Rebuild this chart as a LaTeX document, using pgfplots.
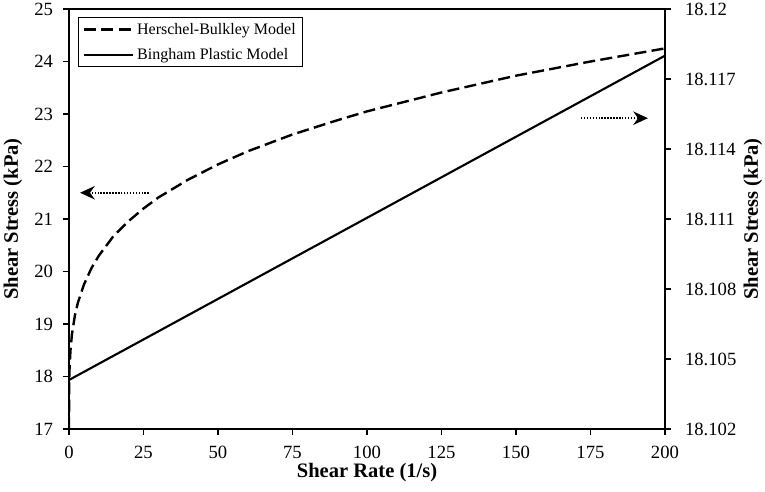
\documentclass[border=0pt]{standalone}
\usepackage{fontspec}
\setmainfont{Liberation Serif}
\usepackage{pgfplots}
\pgfplotsset{compat=1.18}
\usetikzlibrary{arrows.meta}

\pgfplotstableread{
x y
0 17.00
0.05 17.82
0.2 18.18
0.5 18.50
1 18.81
2 19.17
3 19.41
5 19.75
7.5 20.06
10 20.30
15 20.68
20 20.96
25 21.20
30 21.41
40 21.75
50 22.04
60 22.29
75 22.61
90 22.88
100 23.05
125 23.41
150 23.73
175 24.00
200 24.25
}\hbdata

\pgfplotstableread{
x y
0 18.1041
200 18.1180
}\bpdata

\begin{document}
\begin{tikzpicture}
\begin{axis}[
  scale only axis, width=447pt, height=315pt,
  xmin=0, xmax=200, ymin=17, ymax=25,
  ytick={17,18,19,20,21,22,23,24,25},
  yticklabels={17,18,19,20,21,22,23,24,25},
  xtick={0,25,50,75,100,125,150,175,200},
  xticklabels={0,25,50,75,100,125,150,175,200},
  tick align=outside,
  major tick length=4.5pt,
  xtick style={black, line width=1.2pt},
  ytick style={black, line width=1.2pt},
  xtick pos=bottom, ytick pos=left,
  ticklabel style={font=\fontsize{14}{16}\selectfont},
  yticklabel style={xshift=-4pt},
  xticklabel style={yshift=-5pt},
  axis line style={line width=1.1pt},
  xlabel={Shear Rate (1/s)},
  ylabel={Shear Stress (kPa)},
  xlabel style={font=\fontsize{15.4}{18}\selectfont\bfseries,
    at={(axis description cs:0.5,-0.116)}, anchor=base},
  ylabel style={font=\fontsize{15.4}{18}\selectfont\bfseries,
    at={(axis description cs:-0.094,0.5)}, anchor=center},
  legend style={at={(axis description cs:0.0151,0.981)}, anchor=north west,
    draw=black, line width=1.1pt, font=\fontsize{12}{14}\selectfont,
    inner xsep=3pt, inner ysep=2pt, row sep=5pt},
  legend cell align=left,
  legend image code/.code={\draw[#1] (0pt,0pt) -- (37pt,0pt);},
]
\addplot[black, line width=1.8pt, dash pattern=on 9pt off 4pt] table[x=x,y=y]{\hbdata};
\addlegendentry{Herschel-Bulkley Model}
\addlegendimage{black, line width=1.6pt, solid}
\addlegendentry{Bingham Plastic Model}
\draw[black, line width=1.8pt, dash pattern=on 1.1pt off 1.1pt,
  -{Stealth[length=11pt,width=10pt,inset=3.5pt]}] (axis cs:26.8,21.5) -- (axis cs:3.7,21.5);
\draw[black, line width=1.8pt, dash pattern=on 1.1pt off 1.1pt,
  -{Stealth[length=11pt,width=10pt,inset=3.5pt]}] (axis cs:171.8,22.92) -- (axis cs:194.3,22.92);
\end{axis}
\begin{axis}[
  scale only axis, width=447pt, height=315pt,
  xmin=0, xmax=200,
  axis x line=none, axis y line*=right,
  ymin=18.102, ymax=18.12,
  ytick={18.102,18.105,18.108,18.111,18.114,18.117,18.12},
  yticklabels={18.102,18.105,18.108,18.111,18.114,18.117,18.12},
  tick align=outside,
  major tick length=4.5pt,
  ytick style={black, line width=1.2pt},
  axis line style={line width=1.1pt},
  ticklabel style={font=\fontsize{14}{16}\selectfont},
  yticklabel style={xshift=7pt},
  ylabel={Shear Stress (kPa)},
  ylabel style={font=\fontsize{15.4}{18}\selectfont\bfseries,
    at={(axis description cs:1.1477,0.5)}, anchor=center},
]
\addplot[black, line width=1.6pt] table[x=x,y=y]{\bpdata};
\end{axis}
\foreach \i in {0,...,8} {
  \draw[black, line width=1.2pt] (\i*55.875pt,0pt) -- (\i*55.875pt,-4.5pt);
  \draw[black, line width=1.2pt] (0pt,\i*39.375pt) -- (-4.5pt,\i*39.375pt);
}
\foreach \i in {0,...,6} {
  \draw[black, line width=1.2pt] (447pt,\i*52.5pt) -- (451.5pt,\i*52.5pt);
}
\pgfresetboundingbox
\path[use as bounding box] (-51.75pt,-47.25pt) rectangle (522pt,321.75pt);
\end{tikzpicture}
\end{document}
